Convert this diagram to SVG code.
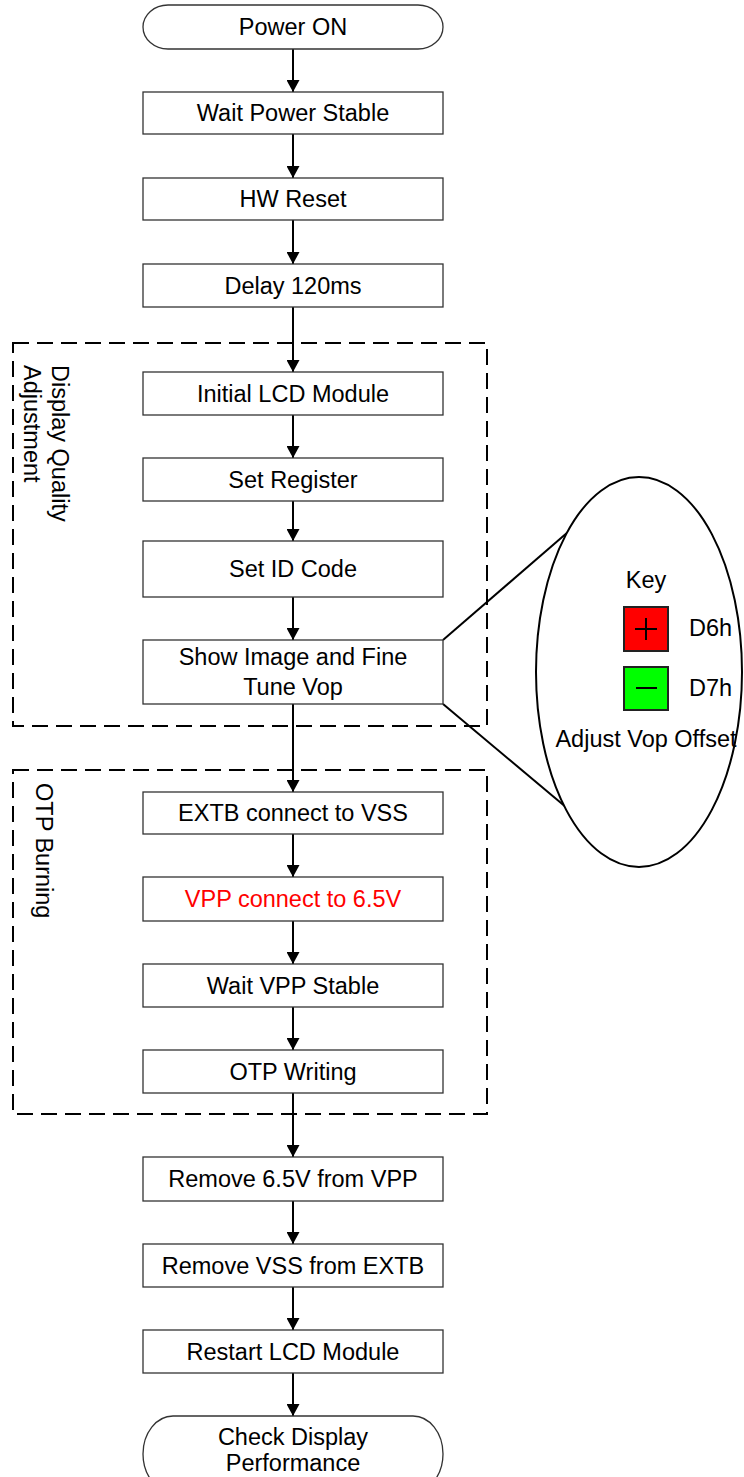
<svg xmlns="http://www.w3.org/2000/svg" width="744" height="1477" viewBox="0 0 744 1477">
<style>
.b{fill:#fff;stroke:#333;stroke-width:1.3}
.t{font-family:"Liberation Sans",Arial,sans-serif;font-size:23.5px;fill:#000;text-anchor:middle}
.s{font-family:"Liberation Sans",Arial,sans-serif;font-size:23.5px;fill:#000}
.c{stroke:#000;stroke-width:2;fill:none}
.d{stroke:#000;stroke-width:2;fill:none;stroke-dasharray:16 8}
</style>
<defs>
<marker id="ah" markerUnits="userSpaceOnUse" markerWidth="12" markerHeight="13" refX="12" refY="6.5" orient="auto">
<path d="M0,0 L12,6.5 L0,13 z" fill="#000"/>
</marker>
</defs>
<rect width="744" height="1477" fill="#fff"/>
<g id="groups">
<rect class="d" x="13" y="343" width="474" height="383"/>
<text class="s" transform="translate(52,365) rotate(90)">Display Quality<tspan x="0" dy="28">Adjustment</tspan></text>
<rect class="d" x="13" y="770" width="474" height="344"/>
<text class="s" transform="translate(36,783) rotate(90)">OTP Burning</text>
</g>
<g id="connectors">
<line class="c" x1="293" y1="49" x2="293" y2="92" marker-end="url(#ah)"/>
<line class="c" x1="293" y1="134" x2="293" y2="178" marker-end="url(#ah)"/>
<line class="c" x1="293" y1="220" x2="293" y2="264" marker-end="url(#ah)"/>
<line class="c" x1="293" y1="307" x2="293" y2="372" marker-end="url(#ah)"/>
<line class="c" x1="293" y1="415" x2="293" y2="458" marker-end="url(#ah)"/>
<line class="c" x1="293" y1="501" x2="293" y2="541" marker-end="url(#ah)"/>
<line class="c" x1="293" y1="597" x2="293" y2="640" marker-end="url(#ah)"/>
<line class="c" x1="293" y1="704" x2="293" y2="792" marker-end="url(#ah)"/>
<line class="c" x1="293" y1="834" x2="293" y2="877" marker-end="url(#ah)"/>
<line class="c" x1="293" y1="921" x2="293" y2="964" marker-end="url(#ah)"/>
<line class="c" x1="293" y1="1007" x2="293" y2="1050" marker-end="url(#ah)"/>
<line class="c" x1="293" y1="1093" x2="293" y2="1157" marker-end="url(#ah)"/>
<line class="c" x1="293" y1="1201" x2="293" y2="1244" marker-end="url(#ah)"/>
<line class="c" x1="293" y1="1287" x2="293" y2="1330" marker-end="url(#ah)"/>
<line class="c" x1="293" y1="1373" x2="293" y2="1416" marker-end="url(#ah)"/>
<line class="c" x1="443" y1="640" x2="568" y2="532"/>
<line class="c" x1="443" y1="704" x2="567" y2="808"/>
</g>
<g id="n1"><rect class="b" x="143" y="5" width="300" height="44" rx="25" ry="22"/><text class="t" x="293" y="35">Power ON</text></g>
<g id="n2"><rect class="b" x="143" y="92" width="300" height="42"/><text class="t" x="293" y="121">Wait Power Stable</text></g>
<g id="n3"><rect class="b" x="143" y="178" width="300" height="42"/><text class="t" x="293" y="207">HW Reset</text></g>
<g id="n4"><rect class="b" x="143" y="264" width="300" height="43"/><text class="t" x="293" y="294">Delay 120ms</text></g>
<g id="n5"><rect class="b" x="143" y="372" width="300" height="43"/><text class="t" x="293" y="402">Initial LCD Module</text></g>
<g id="n6"><rect class="b" x="143" y="458" width="300" height="43"/><text class="t" x="293" y="488">Set Register</text></g>
<g id="n7"><rect class="b" x="143" y="541" width="300" height="56"/><text class="t" x="293" y="577">Set ID Code</text></g>
<g id="n8"><rect class="b" x="143" y="640" width="300" height="64"/><text class="t" x="293" y="665">Show Image and Fine<tspan x="293" dy="30">Tune Vop</tspan></text></g>
<g id="n9"><rect class="b" x="143" y="792" width="300" height="42"/><text class="t" x="293" y="821">EXTB connect to VSS</text></g>
<g id="n10"><rect class="b" x="143" y="877" width="300" height="44"/><text class="t" x="293" y="907" fill="#f00" style="fill:#f00">VPP connect to 6.5V</text></g>
<g id="n11"><rect class="b" x="143" y="964" width="300" height="43"/><text class="t" x="293" y="994">Wait VPP Stable</text></g>
<g id="n12"><rect class="b" x="143" y="1050" width="300" height="43"/><text class="t" x="293" y="1080">OTP Writing</text></g>
<g id="n13"><rect class="b" x="143" y="1157" width="300" height="44"/><text class="t" x="293" y="1187">Remove 6.5V from VPP</text></g>
<g id="n14"><rect class="b" x="143" y="1244" width="300" height="43"/><text class="t" x="293" y="1274">Remove VSS from EXTB</text></g>
<g id="n15"><rect class="b" x="143" y="1330" width="300" height="43"/><text class="t" x="293" y="1360">Restart LCD Module</text></g>
<g id="n16"><rect class="b" x="143" y="1416" width="300" height="76" rx="30" ry="38"/><text class="t" x="293" y="1445">Check Display<tspan x="293" dy="26">Performance</tspan></text></g>
<g id="key">
<ellipse cx="639" cy="672" rx="103" ry="195" fill="#fff" stroke="#000" stroke-width="2"/>
<text class="t" x="646" y="588">Key</text>
<rect x="624" y="607" width="44" height="44" fill="#f00" stroke="#222" stroke-width="2"/>
<path d="M635,629 H657 M646,618 V640" stroke="#000" stroke-width="2"/>
<text class="s" x="689" y="636">D6h</text>
<rect x="624" y="667" width="44" height="43" fill="#0f0" stroke="#222" stroke-width="2"/>
<path d="M636,688 H657" stroke="#000" stroke-width="2"/>
<text class="s" x="689" y="696">D7h</text>
<text class="t" x="646" y="747">Adjust Vop Offset</text>
</g>
</svg>
